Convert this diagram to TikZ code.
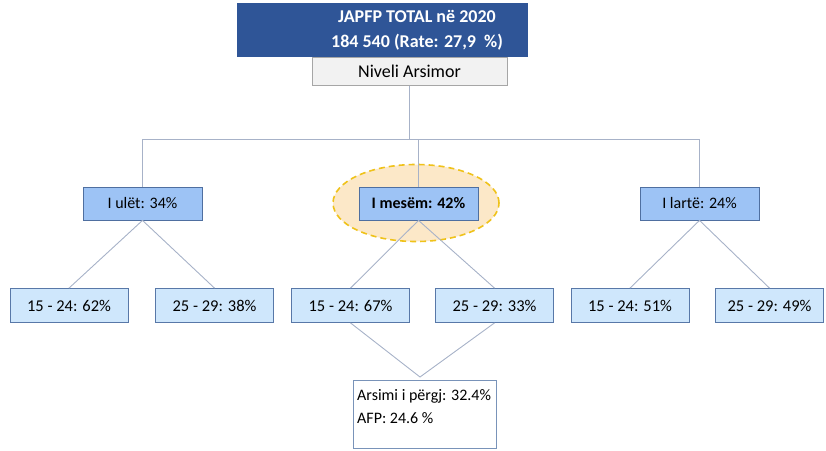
\documentclass[tikz,border=0pt]{standalone}
\usepackage{fontspec}
\setmainfont{Carlito}
\usetikzlibrary{shapes.geometric}
\definecolor{titleblue}{HTML}{2F5597}
\definecolor{midfill}{HTML}{9DC3F5}
\definecolor{midedge}{HTML}{4F6FA0}
\definecolor{agefill}{HTML}{CFE7FC}
\definecolor{ageedge}{HTML}{5878A8}
\definecolor{linkgray}{HTML}{A7B2C8}
\definecolor{hilite}{HTML}{FCE8C8}
\definecolor{hiliteedge}{HTML}{EFC21A}
\tikzset{
  x=1pt, y=-1pt,
  levelbox/.style={draw=midedge, fill=midfill, line width=0.8pt, minimum width=119pt,
    minimum height=33pt, inner sep=0pt, font=\fontsize{16}{18}\selectfont},
  agebox/.style={draw=ageedge, fill=agefill, line width=0.8pt, minimum width=118pt,
    minimum height=34pt, inner sep=0pt, font=\fontsize{16.5}{18}\selectfont},
  link/.style={draw=linkgray, line width=0.9pt},
}
\begin{document}
\begin{tikzpicture}
\useasboundingbox (0,0) rectangle (826,450);

% header
\node[fill=titleblue, minimum width=291pt, minimum height=54pt, inner sep=0pt] (title) at (382.5,30) {};
\node[text=white, font=\bfseries\fontsize{18}{25}\selectfont, align=center] (titletext) at (417,30)
  {JAPFP TOTAL në 2020\\184 540 (Rate: 27,9 \ \%)};
\node[draw=gray!70, fill=gray!10, line width=0.8pt, minimum width=195pt, minimum height=28pt,
  inner sep=0pt, font=\fontsize{18}{20}\selectfont] (niv) at (409.5,71.5) {Niveli Arsimor};

% highlight behind the middle level
\node[ellipse, draw=hiliteedge, fill=hilite, line width=1.6pt, dash pattern=on 6pt off 4pt,
  minimum width=166pt, minimum height=77pt, inner sep=0pt] (hl) at (416,203) {};

% education levels
\node[levelbox] (low) at (142.5,203.5) {I ulët: 34\%};
\node[levelbox, font=\bfseries\fontsize{16}{18}\selectfont] (mid) at (418.5,203.5) {I mesëm: 42\%};
\node[levelbox] (high) at (699.5,203.5) {I lartë: 24\%};

% age groups
\node[agebox] (lowA) at (69,305.5) {15 - 24: 62\%};
\node[agebox] (lowB) at (214.5,305.5) {25 - 29: 38\%};
\node[agebox] (midA) at (350.5,305.5) {15 - 24: 67\%};
\node[agebox] (midB) at (494.5,305.5) {25 - 29: 33\%};
\node[agebox] (highA) at (630,305.5) {15 - 24: 51\%};
\node[agebox, minimum width=108pt] (highB) at (769.5,305.5) {25 - 29: 49\%};

% summary box
\node[draw=ageedge!80, fill=white, line width=0.8pt, minimum width=143pt, minimum height=68pt,
  inner sep=0pt] (sum) at (424.5,414) {};
\node[anchor=north west, inner sep=0pt, align=left, font=\fontsize{16}{23}\selectfont]
  (sumtext) at (357,389) {Arsimi i përgj: 32.4\%\\AFP: 24.6 \%};
\coordinate (meet) at (420,377);

% connectors
\coordinate (bus) at (0,139);
\draw[link] (niv.south) -- (niv.south |- bus);
\draw[link] (low.north) |- (bus -| high.north) -- (high.north);
\draw[link] (mid.north) -- (mid.north |- bus);
\draw[link] (lowA.north) -- (low.south) -- (lowB.north);
\draw[link] (midA.north) -- (mid.south) -- (midB.north);
\draw[link] (highA.north) -- (high.south) -- (highB.north);
\draw[link] (midA.south) -- (meet) -- (midB.south);
\end{tikzpicture}
\end{document}
